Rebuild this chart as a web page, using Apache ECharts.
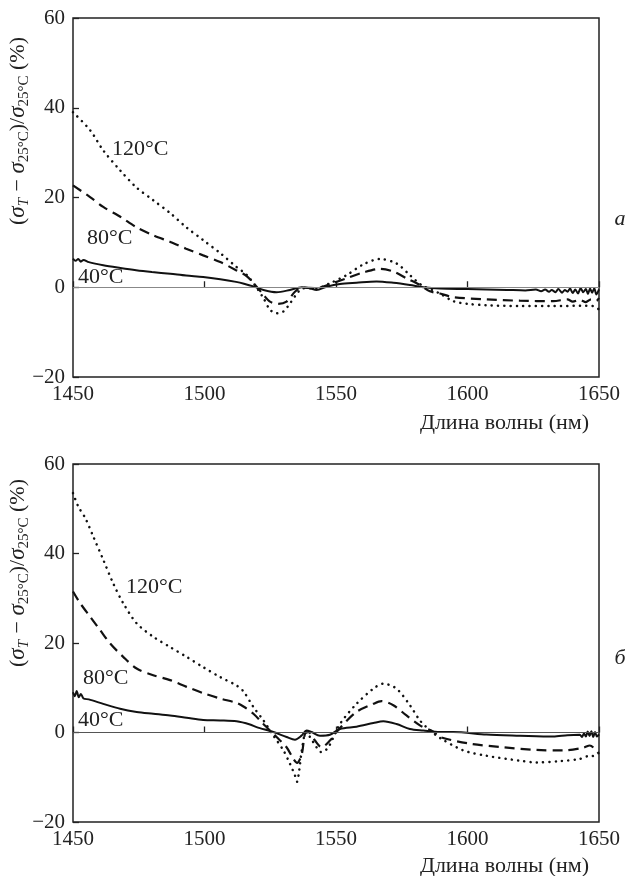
<!DOCTYPE html>
<html>
<head>
<meta charset="utf-8">
<script src="https://cdn.jsdelivr.net/npm/echarts@6/dist/echarts.min.js"></script>
<style>
html,body{margin:0;padding:0;background:#fff;}
#c{width:625px;height:876px;}
</style>
</head>
<body>
<div id="c"></div>
<script>
// ---- data (wavelength nm, relative change %) ----
var xTicks = [1450, 1500, 1550, 1600, 1650];
var yTicks = [-20, 0, 20, 40, 60];

var topT120 = [[1450,39.0],[1456.5,35],[1461.5,30.5],[1468,26],[1474,22.3],[1480.5,19.4],[1487,16.5],[1493,13.4],[1499.5,10.5],[1506,7.6],[1512,4.6],[1516,2.8],[1519,0.6],[1522.4,-2.4],[1524.9,-5],[1527.4,-5.8],[1530,-5.4],[1532.5,-3.6],[1535.7,-1],[1537.6,-0.2],[1542.6,-0.2],[1547.7,0.9],[1554,2.7],[1560.4,5.1],[1566.7,6.3],[1573,5.3],[1578.1,2.7],[1582.5,0.5],[1589.5,-1.4],[1594.6,-3.1],[1600,-3.7],[1607.2,-4.0],[1619.9,-4.2],[1632.6,-4.2],[1645.3,-4.1],[1648.5,-4.3],[1650,-5]];
var topT80 = [[1450,22.7],[1456.5,20.1],[1461.5,17.9],[1468,15.7],[1474,13.4],[1480.5,11.6],[1487,10.1],[1493,8.6],[1499.5,7.1],[1506,5.6],[1512,3.8],[1516,2.5],[1519,0.7],[1522.4,-1.7],[1524.9,-3.2],[1528,-3.7],[1531.2,-3.2],[1534.4,-1.0],[1537,-0.1],[1542.6,-0.2],[1547.7,0.7],[1554,2.0],[1560.4,3.3],[1566.7,4.1],[1571.8,3.5],[1576.8,2.0],[1581.9,0.5],[1585.7,-0.9],[1589.5,-1.4],[1594.6,-2.2],[1607.2,-2.7],[1619.9,-3.0],[1632.6,-3.1],[1638,-2.7],[1640,-3.2],[1642.7,-2.8],[1645,-3.3],[1647,-2.7],[1649,-3.0],[1650,-2.4]];
var topT40 = [[1450,6.4],[1451,5.9],[1452,6.3],[1453,5.7],[1454,6.1],[1456,5.6],[1461.5,4.9],[1468,4.3],[1474,3.8],[1480,3.4],[1487,3.0],[1493,2.6],[1499.5,2.3],[1506,1.8],[1512,1.2],[1515,0.8],[1518.6,0.2],[1522.4,-0.6],[1527.4,-1.1],[1532.5,-0.6],[1537,0],[1540,-0.2],[1542.6,-0.6],[1546.4,0.1],[1551.5,0.7],[1557.8,1.0],[1565.4,1.3],[1571.8,1.0],[1578.1,0.5],[1583.2,0],[1589.5,-0.3],[1600,-0.4],[1607.2,-0.5],[1615,-0.6],[1622,-0.7],[1626,-0.5],[1628,-0.9],[1629.5,-0.5],[1631,-1.0],[1632,-0.6],[1633.5,-1.1],[1634.5,-0.4],[1636,-1.2],[1637,-0.6],[1638,-1.0],[1639,-0.3],[1640,-1.3],[1641,-0.5],[1642,-1.4],[1643,-0.2],[1644,-1.1],[1645,-0.4],[1645.8,-1.5],[1646.6,-0.3],[1647.4,-1.2],[1648.2,-0.2],[1649,-1.6],[1650,-0.5]];

var botT120 = [[1450,53.5],[1452,50.5],[1454.6,48],[1457.7,43.8],[1461.5,38.6],[1465.3,33.3],[1469.1,28.9],[1474.2,24.4],[1480.5,21.4],[1486.9,19.1],[1493.2,16.9],[1499.5,14.6],[1505.9,12.4],[1512.2,10.5],[1514.8,9.2],[1518.6,5.7],[1522.4,2.7],[1526.2,-0.7],[1530,-4.0],[1532.5,-7.0],[1534.4,-9.6],[1535.2,-11],[1536,-8.5],[1537,-4.0],[1538.6,0.1],[1540.1,-1.0],[1542.6,-3.3],[1544.5,-4.4],[1547.1,-3.3],[1551.5,1.9],[1557.8,6.4],[1564.2,9.8],[1568,10.9],[1573,9.8],[1578.1,6.1],[1581.9,2.7],[1585.7,0.5],[1589.5,-1.2],[1598.4,-4.0],[1607.2,-5.2],[1619.9,-6.3],[1626.2,-6.7],[1635.1,-6.4],[1642.7,-5.9],[1646.5,-5.2],[1650,-5.5]];
var botT80 = [[1450,31.5],[1452.7,28.9],[1456.5,25.9],[1460.3,22.9],[1464.1,19.9],[1469.1,16.9],[1474.2,14.3],[1480.5,12.8],[1486.9,11.7],[1493.2,10.2],[1499.5,8.8],[1505.9,7.6],[1512.2,6.6],[1514.8,5.8],[1518.6,4.2],[1522.4,1.9],[1527.4,-1.0],[1531.2,-3.3],[1533.8,-5.9],[1535.2,-6.8],[1537,-4.8],[1538.2,-0.3],[1539.5,0.1],[1542,-1.8],[1544.5,-3.3],[1547.7,-1.8],[1551.5,1.0],[1557.8,4.6],[1564.2,6.4],[1567.3,7.0],[1571.8,6.1],[1576.8,3.8],[1581.9,1.6],[1587,0.2],[1589.5,-1.0],[1600.9,-2.5],[1613.6,-3.3],[1626.2,-3.9],[1636.4,-4.0],[1644,-3.4],[1646.5,-2.9],[1650,-4.8]];
var botT40 = [[1450,9.0],[1450.7,8.1],[1451.4,9.3],[1452.2,7.9],[1453,8.6],[1454,7.6],[1456,7.4],[1461.5,6.4],[1467.9,5.3],[1474.2,4.6],[1480.5,4.2],[1486.9,3.8],[1493.2,3.3],[1499.5,2.8],[1505.9,2.7],[1512.2,2.5],[1517.3,1.8],[1519.8,1.2],[1526.2,0.1],[1531.2,-1.0],[1534.4,-1.6],[1536.9,-0.7],[1538.8,0.45],[1540.7,0.1],[1543.9,-0.7],[1547.7,-0.5],[1551.5,0.8],[1557.8,1.3],[1564.2,2.1],[1568,2.5],[1573,1.9],[1578.1,0.8],[1583.2,0.45],[1589.5,0.1],[1594.6,0.1],[1607.2,-0.45],[1619.9,-0.7],[1632.6,-0.9],[1638,-0.6],[1642.7,-0.5],[1643.5,-1.0],[1644.3,-0.2],[1645,-0.9],[1645.7,0.2],[1646.4,-0.8],[1647.1,0.3],[1647.8,-1.0],[1648.5,0.1],[1649.2,-0.9],[1650,-0.4]];

var tempLabels = ['120°C', '80°C', '40°C'];
var panelLetters = ['а', 'б'];
var xTitle = 'Длина волны (нм)';

// ---- chart ----
var SERIF = "'Liberation Serif','DejaVu Serif',serif";
var INK = '#222';
var chart = echarts.init(document.getElementById('c'), null, {renderer: 'canvas'});

function xAxisFor(i) {
  return {
    type: 'value', gridIndex: i, min: xTicks[0], max: xTicks[xTicks.length - 1], interval: 50,
    axisLine: {show: false},
    axisTick: {show: true, inside: true, length: 6, lineStyle: {color: INK, width: 1.3}},
    axisLabel: {show: true, margin: 7, color: INK, fontFamily: SERIF, fontSize: 21,
      formatter: function (v) { return String(v); }},
    splitLine: {show: false}
  };
}
function yAxisFor(i) {
  return {
    type: 'value', gridIndex: i, min: yTicks[0], max: yTicks[yTicks.length - 1], interval: 20,
    axisLine: {show: false},
    axisTick: {show: true, inside: true, length: 6, lineStyle: {color: INK, width: 1.3}},
    axisLabel: {show: true, margin: 8, color: INK, fontFamily: SERIF, fontSize: 21,
      formatter: function (v) { return v < 0 ? '\u2212' + Math.abs(v) : String(v); }},
    splitLine: {show: false}
  };
}
function line(data, i, kind, zeroColor) {
  var ls = {color: '#111', width: 2};
  if (kind === 'dash') { ls = {color: '#111', width: 2.2, type: [10, 6]}; }
  if (kind === 'dot') { ls = {color: '#111', width: 2.5, type: [0.1, 6.2], cap: 'round'}; }
  var s = {
    type: 'line', xAxisIndex: i, yAxisIndex: i, data: data, showSymbol: false, symbol: 'none',
    smooth: 0.3, lineStyle: ls, silent: true, animation: false, z: 3
  };
  if (zeroColor) {
    s.markLine = {silent: true, symbol: 'none', label: {show: false}, animation: false,
      lineStyle: {color: zeroColor, width: 1, type: 'solid'}, data: [{yAxis: 0}]};
  }
  return s;
}

function yTitle(cx, cy) {
  return {
    type: 'text', x: cx, y: cy, rotation: Math.PI / 2, silent: true,
    style: {
      text: '({i|σ}{si|T} − {i|σ}{s|25°C})/{i|σ}{s|25°C} (%)',
      fontFamily: SERIF, fontSize: 22, fill: INK,
      textAlign: 'center', textVerticalAlign: 'middle',
      rich: {
        i: {fontFamily: SERIF, fontStyle: 'italic', fontSize: 23, fill: INK},
        si: {fontFamily: SERIF, fontStyle: 'italic', fontSize: 15, fill: INK, padding: [12, 1, 0, 0]},
        s: {fontFamily: SERIF, fontSize: 15, fill: INK, padding: [12, 0, 0, 0]}
      }
    }
  };
}
function txt(s, x, y, align, extra) {
  var st = {text: s, fontFamily: SERIF, fontSize: 22, fill: INK, textAlign: align || 'left', textVerticalAlign: 'middle'};
  if (extra) { for (var k in extra) st[k] = extra[k]; }
  return {type: 'text', x: x, y: y, silent: true, style: st};
}

var option = {
  backgroundColor: '#fff',
  animation: false,
  grid: [
    {left: 73, top: 18, width: 526, height: 359, show: true, borderColor: INK, borderWidth: 1.5, backgroundColor: 'transparent'},
    {left: 73, top: 464, width: 526, height: 358, show: true, borderColor: INK, borderWidth: 1.5, backgroundColor: 'transparent'}
  ],
  xAxis: [xAxisFor(0), xAxisFor(1)],
  yAxis: [yAxisFor(0), yAxisFor(1)],
  series: [
    line(topT40, 0, 'solid', '#888'),
    line(topT80, 0, 'dash'),
    line(topT120, 0, 'dot'),
    line(botT40, 1, 'solid', '#555'),
    line(botT80, 1, 'dash'),
    line(botT120, 1, 'dot')
  ],
  graphic: [
    yTitle(18, 131),
    yTitle(18, 573),
    txt(tempLabels[0], 112, 149),
    txt(tempLabels[1], 87, 238),
    txt(tempLabels[2], 78, 277),
    txt(tempLabels[0], 126, 587),
    txt(tempLabels[1], 83, 678),
    txt(tempLabels[2], 78, 720),
    txt(panelLetters[0], 620, 219, 'center', {fontStyle: 'italic'}),
    txt(panelLetters[1], 620, 658, 'center', {fontStyle: 'italic'}),
    txt(xTitle, 589, 423, 'right'),
    txt(xTitle, 589, 866, 'right')
  ]
};
chart.setOption(option);
</script>
</body>
</html>
